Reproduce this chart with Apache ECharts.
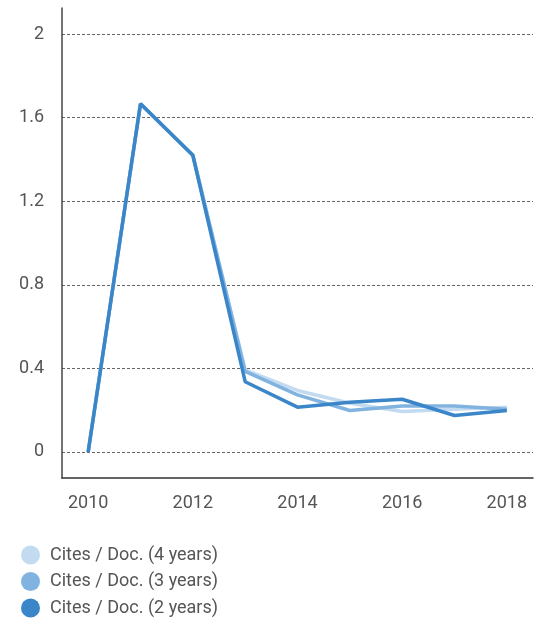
<!DOCTYPE html>
<html><head><meta charset="utf-8">
<script src="https://cdn.jsdelivr.net/npm/echarts@6/dist/echarts.min.js"></script>
<style>html,body{margin:0;padding:0;background:#fff}#c{width:541px;height:621px}</style>
</head><body><div id="c"></div>
<script>
const years = ['2010','2011','2012','2013','2014','2015','2016','2017','2018'];
const cites4 = [0, 1.667, 1.42, 0.393, 0.294, 0.233, 0.193, 0.204, 0.214];
const cites3 = [0, 1.667, 1.42, 0.385, 0.273, 0.198, 0.22, 0.22, 0.204];
const cites2 = [0, 1.667, 1.42, 0.336, 0.214, 0.238, 0.252, 0.174, 0.198];
const yTicks = [0, 0.4, 0.8, 1.2, 1.6, 2];
const names = ['Cites / Doc. (4 years)', 'Cites / Doc. (3 years)', 'Cites / Doc. (2 years)'];
const colors = ['#c3dbf0', '#80b3e0', '#3a86c8'];

const chart = echarts.init(document.getElementById('c'));
const mk = (i, d) => ({
  name: names[i], type: 'line', data: d, symbol: 'none',
  lineStyle: {color: colors[i], width: 3.5}, itemStyle: {color: colors[i]}
});
chart.setOption({
  animation: false,
  textStyle: {fontFamily: 'Roboto'},
  color: colors,
  grid: {left: 62, right: 8, top: 8, bottom: 143},
  legend: {
    orient: 'vertical', left: 21, top: 545, height: 80, padding: 0, icon: 'circle',
    itemWidth: 19, itemHeight: 19, itemGap: 6.5,
    textStyle: {fontSize: 18, lineHeight: 20, color: '#555', fontFamily: 'Roboto', padding: [0, 0, 0, 5]},
    data: names
  },
  xAxis: {
    type: 'category', data: years, boundaryGap: true,
    axisLine: {onZero: false, lineStyle: {color: '#333', width: 1.5}},
    axisTick: {show: false},
    axisLabel: {interval: 1, fontSize: 18, color: '#555', margin: 16}
  },
  yAxis: {
    type: 'value', min: -0.125, max: 2.125,
    axisLine: {show: true, lineStyle: {color: '#444', width: 1.5}},
    axisTick: {show: false, customValues: yTicks},
    axisLabel: {customValues: yTicks, fontSize: 18, color: '#555', margin: 18},
    splitLine: {show: true, lineStyle: {color: '#666', type: [3, 2], width: 1}}
  },
  series: [mk(0, cites4), mk(1, cites3), mk(2, cites2)]
});
</script></body></html>
